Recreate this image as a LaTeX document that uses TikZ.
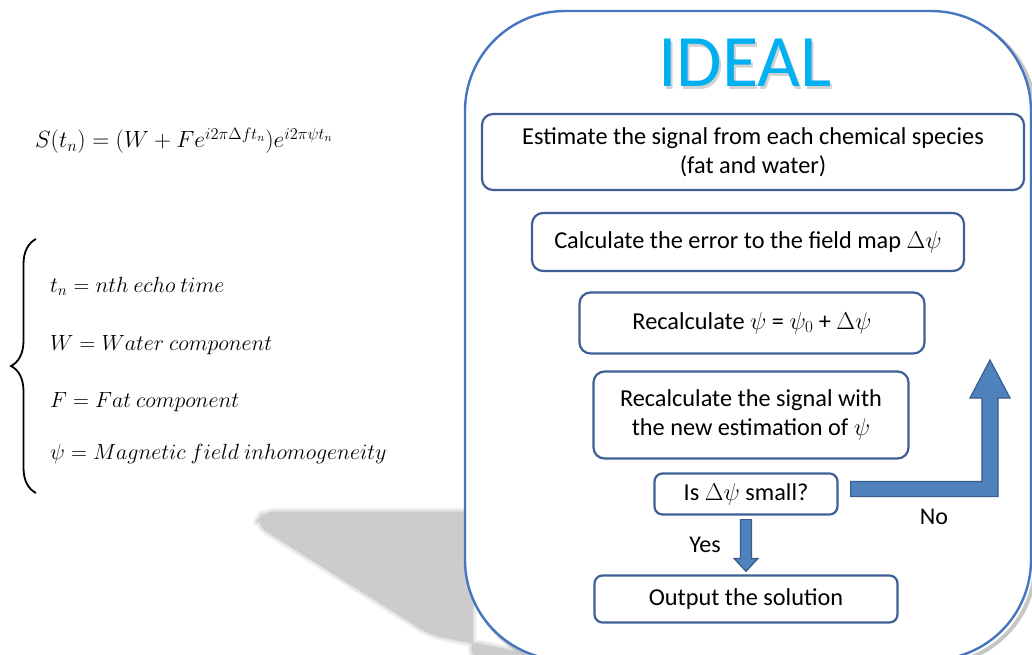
\RequirePackage{fix-cm}
\documentclass[tikz,border=0pt]{standalone}
\usepackage{amsmath}
\usepackage{fontspec}
\setmainfont{Carlito}
\usetikzlibrary{calc,decorations.pathreplacing}

\definecolor{frameblue}{RGB}{70,118,192}
\definecolor{boxblue}{RGB}{62,96,150}
\definecolor{arrowfill}{RGB}{79,129,189}
\definecolor{arrowline}{RGB}{56,93,138}
\definecolor{titlecyan}{RGB}{0,176,240}

\tikzset{
  stepbox/.style={draw=boxblue, line width=2.2pt, rounded corners=11pt, fill=white,
    align=center, inner sep=2pt, font=\fontsize{24.3}{29.5}\selectfont},
  defn/.style={anchor=base west, inner sep=0pt, font=\fontsize{22}{26}\selectfont},
  bigarrow/.style={fill=arrowfill, draw=arrowline, line width=1.2pt, line join=miter},
  answer/.style={font=\fontsize{24}{29}\selectfont}
}

\begin{document}
\begin{tikzpicture}[x=1pt, y=-1pt]
    \useasboundingbox (0,0) rectangle (1032,655);
    % shadow and frame
    \foreach \w/\c in {9/10,6/18,3/28,0/40}
        \filldraw[gray!\c, line width=\w pt, line join=round, rounded corners=12pt]
            (264,512) -- (472,512) -- (472,660) -- (555,660) -- (430,634) -- (256,524) -- cycle;
    \draw[gray!45, line width=4pt, rounded corners=100pt] (469,15) rectangle (1035,664);
    \draw[frameblue, line width=2.4pt, fill=white, rounded corners=100pt] (465,11) rectangle (1031,660);
    \node[text=gray, opacity=0.35, font=\fontsize{74}{80}\selectfont] at (747,66) {IDEAL};
    \node (title) [text=titlecyan, font=\fontsize{74}{80}\selectfont] at (745,63) {IDEAL};

    % flow boxes
    \node (est) [stepbox, minimum width=542pt, minimum height=76pt] at (753,152)
        {Estimate the signal from each chemical species\\(fat and water)};
    \node (err) [stepbox, minimum width=432pt, minimum height=58pt] at (748,242)
        {Calculate the error to the field map $\Delta\psi$};
    \node (upd) [stepbox, minimum width=345pt, minimum height=61pt] at (752,323)
        {Recalculate $\psi$ = $\psi_0$ + $\Delta\psi$};
    \node (sig) [stepbox, minimum width=315pt, minimum height=87pt] at (751,415)
        {Recalculate the signal with\\the new estimation of $\psi$};
    \node (is) [stepbox, minimum width=183pt, minimum height=41pt, rounded corners=8pt] at (746,494)
        {Is $\Delta\psi$ small?};
    \node (out) [stepbox, minimum width=303pt, minimum height=47pt, rounded corners=8pt] at (746,599)
        {Output the solution};

    % yes arrow
    \coordinate (yt) at ($(is.south)+(0,4)$); \coordinate (yb) at ($(out.north)+(0,-3)$);
    \draw[bigarrow] ($(yt)+(-5.5,0)$) -- ($(yt)+(5.5,0)$) -- ($(yb)+(5.5,-13)$) -- ($(yb)+(12,-13)$) -- (yb)
        -- ($(yb)+(-12,-13)$) -- ($(yb)+(-5.5,-13)$) -- cycle;
    \node (yes) [answer] at (705,545) {Yes};

    % no arrow
    \coordinate (nostart) at ($(is.east)+(12,-5)$); \coordinate (notip) at (990,360);
    \draw[bigarrow] ($(nostart)+(0,-7.5)$) -- ($(notip |- nostart)+(-8,-7.5)$) -- ($(notip)+(-8,38)$)
        -- ($(notip)+(-20,38)$) -- (notip) -- ($(notip)+(20,38)$) -- ($(notip)+(8,38)$)
        -- ($(notip |- nostart)+(8,7.5)$) -- ($(nostart)+(0,7.5)$) -- cycle;
    \node (no) [answer] at (934,517) {No};

    % signal model
    \node (model) [defn, font=\fontsize{23.5}{28}\selectfont] at (35,148) {$S(t_n) = (W + Fe^{i2\pi\Delta f t_n})e^{i2\pi\psi t_n}$};
    \draw[line width=1.8pt, decoration={brace, amplitude=25pt}, decorate] (36,493) -- (36,239);
    \node (tn) [defn] at (50,292) {$t_n = nth\ echo\ time$};
    \node (wc) [defn] at (50,350) {$W = Water\ component$};
    \node (fc) [defn] at (50,407) {$F = Fat\ component$};
    \node (psi) [defn] at (50,459) {$\psi = Magnetic\ field\ inhomogeneity$};
\end{tikzpicture}
\end{document}
